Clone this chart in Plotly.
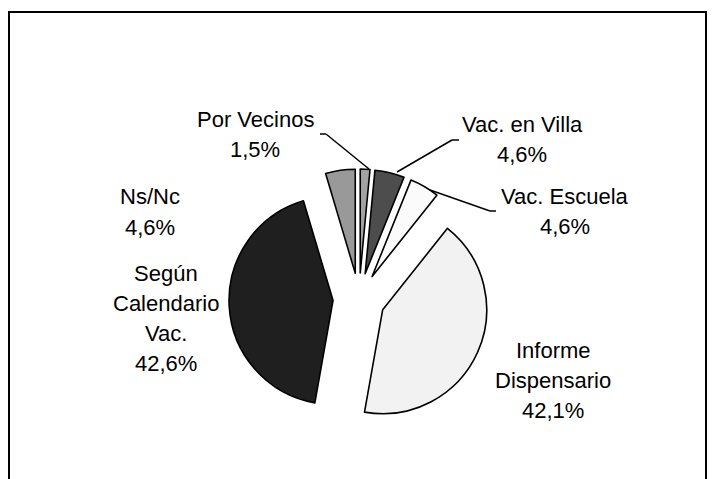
import plotly.graph_objects as go

# ---- data ----
categories = ["Por Vecinos", "Vac. en Villa", "Vac. Escuela", "Informe Dispensario",
              "Según Calendario Vac.", "Ns/Nc"]
values = [1.5, 4.6, 4.6, 42.1, 42.6, 4.6]
value_labels = ["1,5%", "4,6%", "4,6%", "42,1%", "42,6%", "4,6%"]
label_lines = [["Por Vecinos"], ["Vac. en Villa"], ["Vac. Escuela"],
               ["Informe", "Dispensario"], ["Según", "Calendario", "Vac."], ["Ns/Nc"]]

colors = ["#a3a3a3", "#4d4d4d", "#fbfbfb", "#f2f2f2", "#1f1f1f", "#999999"]

W, H = 716, 479
OFF = 8  # page body margin offset

def px(x):
    return (x - OFF) / W

def py(y):
    return 1 - (y - OFF) / H

# pie geometry (pixels): center (359,299), radius 104, pull 0.25
cx, cy, r, pull = 359, 299, 104, 0.25
ext = r * (1 + pull)

fig = go.Figure(go.Pie(
    labels=categories,
    values=values,
    sort=False,
    direction="clockwise",
    rotation=0,
    pull=[pull] * len(values),
    marker=dict(colors=colors, line=dict(color="#000000", width=1.6)),
    textinfo="none",
    showlegend=False,
    domain=dict(x=[px(cx - ext), px(cx + ext)], y=[py(cy + ext), py(cy - ext)]),
))

# label positions (center x, first line y) in pixels
label_pos = [(255, 119), (522, 124), (565, 196), (553, 350), (166, 273), (150, 197)]
line_gap = 30

annotations = []
for lines, val, (lx, ly) in zip(label_lines, value_labels, label_pos):
    for i, t in enumerate(lines + [val]):
        annotations.append(dict(
            x=px(lx), y=py(ly + i * line_gap), xref="paper", yref="paper",
            text=t, showarrow=False, xanchor="center", yanchor="middle",
            font=dict(family="Liberation Sans, Arial, sans-serif", size=22, color="#000000"),
        ))

# leader lines (pixel polylines)
leaders = [
    [(320, 134), (326, 134), (369, 169)],
    [(459, 140), (452, 140), (397, 172)],
    [(496, 211), (490, 211), (430, 190)],
]
shapes = []
for pts in leaders:
    for (x0, y0), (x1, y1) in zip(pts[:-1], pts[1:]):
        shapes.append(dict(type="line", xref="paper", yref="paper",
                           x0=px(x0), y0=py(y0), x1=px(x1), y1=py(y1),
                           line=dict(color="#000000", width=1.5)))

# outer frame
shapes.append(dict(type="rect", xref="paper", yref="paper",
                   x0=px(9), y0=-0.1, x1=px(706), y1=py(12),
                   line=dict(color="#000000", width=2)))

fig.update_layout(
    width=W, height=H,
    margin=dict(l=0, r=0, t=0, b=0),
    paper_bgcolor="#ffffff",
    plot_bgcolor="#ffffff",
    annotations=annotations,
    shapes=shapes,
)

fig.write_html("out.html")
